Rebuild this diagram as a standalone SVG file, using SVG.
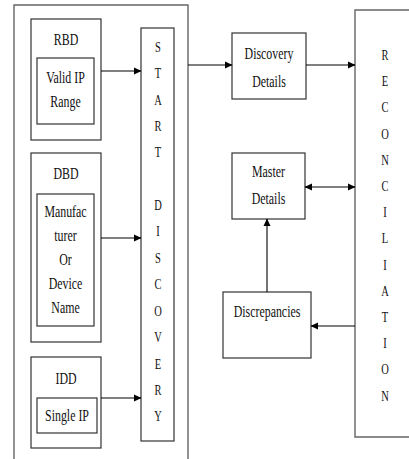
<svg xmlns="http://www.w3.org/2000/svg" width="409" height="459" viewBox="0 0 409 459">
<style>
text{fill:#111;text-anchor:middle}
.lbl{font-size:17px}
.let{font-size:15px}
.box{fill:#fff;stroke:#333;stroke-width:1.2}
.frame{fill:none;stroke:#666;stroke-width:1.4}
.con{fill:none;stroke:#000;stroke-width:1.1}
</style>
<defs>
<marker id="ah" markerWidth="8" markerHeight="8" refX="7" refY="4" orient="auto-start-reverse" markerUnits="userSpaceOnUse">
<path d="M0,0.5 L7.5,4 L0,7.5 z" fill="#000"/>
</marker>
</defs>
<rect width="409" height="459" fill="#fff"/>
<g font-family="Liberation Serif, Times New Roman, DejaVu Serif, serif">
<g id="container">
<path class="frame" d="M14,459 V5 H188 V459"/>
</g>
<g id="rbd">
<rect class="box" x="31" y="19" width="70" height="121"/>
<text class="lbl" transform="translate(66,45) scale(0.7,1)">RBD</text>
<rect class="box" x="37" y="58" width="57" height="66"/>
<text class="lbl" transform="translate(65.5,83) scale(0.7,1)">Valid IP</text>
<text class="lbl" transform="translate(65.5,107) scale(0.7,1)">Range</text>
</g>
<g id="dbd">
<rect class="box" x="31" y="153" width="70" height="189"/>
<text class="lbl" transform="translate(66,179) scale(0.7,1)">DBD</text>
<rect class="box" x="37" y="194" width="57" height="132"/>
<text class="lbl" transform="translate(65.5,217) scale(0.7,1)">Manufac</text>
<text class="lbl" transform="translate(65.5,241) scale(0.7,1)">turer</text>
<text class="lbl" transform="translate(65.5,265) scale(0.7,1)">Or</text>
<text class="lbl" transform="translate(65.5,289) scale(0.7,1)">Device</text>
<text class="lbl" transform="translate(65.5,313) scale(0.7,1)">Name</text>
</g>
<g id="idd">
<rect class="box" x="31" y="357" width="70" height="91"/>
<text class="lbl" transform="translate(66,384) scale(0.7,1)">IDD</text>
<rect class="box" x="37" y="398" width="60" height="35"/>
<text class="lbl" transform="translate(67,421) scale(0.7,1)">Single IP</text>
</g>
<g id="start-discovery">
<rect class="box" x="141" y="28" width="33" height="413"/>
<g class="let" transform="translate(158,0) scale(0.7,1)">
<text x="0" y="52">S</text>
<text x="0" y="78">T</text>
<text x="0" y="105">A</text>
<text x="0" y="131">R</text>
<text x="0" y="157">T</text>
<text x="0" y="210">D</text>
<text x="0" y="236">I</text>
<text x="0" y="263">S</text>
<text x="0" y="289">C</text>
<text x="0" y="316">O</text>
<text x="0" y="342">V</text>
<text x="0" y="369">E</text>
<text x="0" y="395">R</text>
<text x="0" y="421">Y</text>
</g>
</g>
<g id="discovery-details">
<rect class="box" x="232" y="33" width="74" height="66"/>
<text class="lbl" transform="translate(269,59) scale(0.7,1)">Discovery</text>
<text class="lbl" transform="translate(269,87) scale(0.7,1)">Details</text>
</g>
<g id="master-details">
<rect class="box" x="232" y="153" width="73" height="66"/>
<text class="lbl" transform="translate(268.5,177) scale(0.7,1)">Master</text>
<text class="lbl" transform="translate(268.5,204) scale(0.7,1)">Details</text>
</g>
<g id="discrepancies">
<rect class="box" x="223" y="292" width="88" height="66"/>
<text class="lbl" transform="translate(267,317) scale(0.7,1)">Discrepancies</text>
</g>
<g id="reconciliation">
<path class="frame" d="M409,10 H355 V437 H409"/>
<g class="let" transform="translate(385,0) scale(0.7,1)">
<text x="0" y="60">R</text>
<text x="0" y="86">E</text>
<text x="0" y="112">C</text>
<text x="0" y="139">O</text>
<text x="0" y="165">N</text>
<text x="0" y="191">C</text>
<text x="0" y="217">I</text>
<text x="0" y="243">L</text>
<text x="0" y="270">I</text>
<text x="0" y="296">A</text>
<text x="0" y="322">T</text>
<text x="0" y="348">I</text>
<text x="0" y="374">O</text>
<text x="0" y="401">N</text>
</g>
</g>
</g>
<g id="connectors">
<line class="con" x1="101" y1="71" x2="141" y2="71" marker-end="url(#ah)"/>
<line class="con" x1="101" y1="238" x2="141" y2="238" marker-end="url(#ah)"/>
<line class="con" x1="101" y1="398" x2="141" y2="398" marker-end="url(#ah)"/>
<line class="con" x1="188" y1="65" x2="232" y2="65" marker-end="url(#ah)"/>
<line class="con" x1="306" y1="65" x2="355" y2="65" marker-end="url(#ah)"/>
<line class="con" x1="305" y1="187" x2="355" y2="187" marker-start="url(#ah)" marker-end="url(#ah)"/>
<line class="con" x1="355" y1="326" x2="311" y2="326" marker-end="url(#ah)"/>
<line class="con" x1="267" y1="292" x2="267" y2="219" marker-end="url(#ah)"/>
</g>
</svg>
